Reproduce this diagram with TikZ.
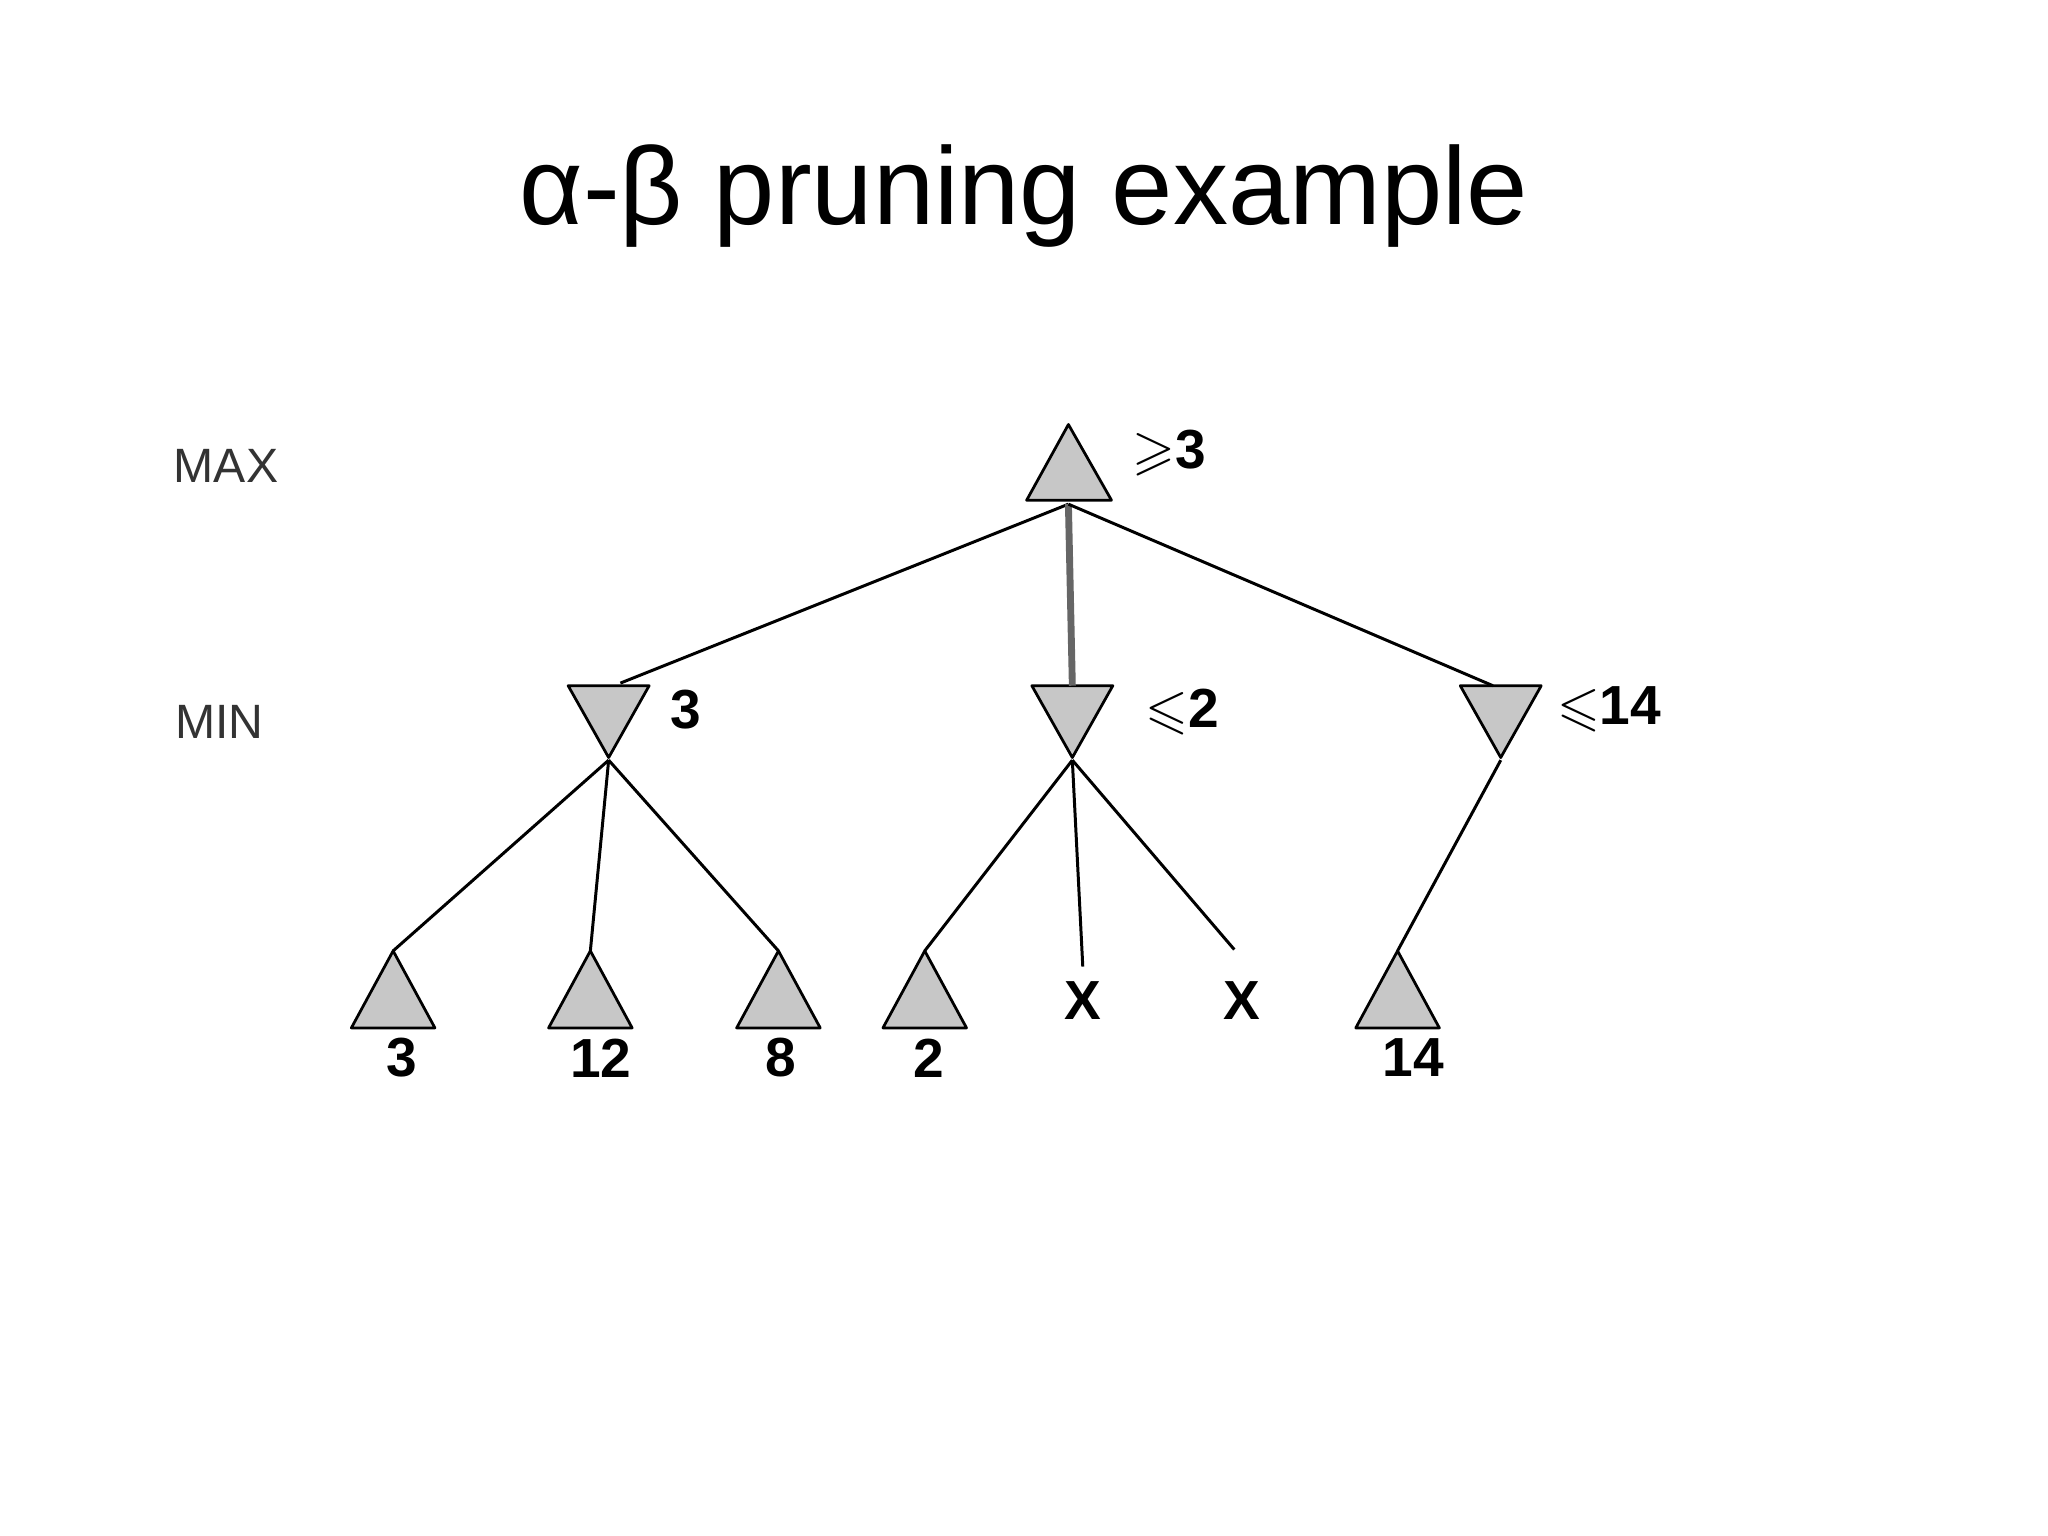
\documentclass[tikz,border=0pt]{standalone}
\usepackage{fontspec}
\usepackage{amssymb}
\setmainfont{Liberation Sans}
\begin{document}
\begin{tikzpicture}[x=0.02cm,y=-0.02cm,
 tri/.style={fill=black!22,draw=black,line width=1.2pt,line join=round},
 edge/.style={line width=1.3pt},
 val/.style={font=\fontsize{24}{26}\selectfont\bfseries,inner sep=0pt},
 lvl/.style={font=\fontsize{21}{24}\selectfont,text=black!80,inner sep=0pt}]
\useasboundingbox (0,0) rectangle (1568,1176);
\node[font=\fontsize{48}{54}\selectfont] (title) at (784,150) {α-β pruning example};
\node[lvl] (max) at (173,357) {MAX};
\node[lvl] (min) at (168,553) {MIN};
% root
\draw[tri] (818,325) -- (851,383) -- (786,383) -- cycle;
\coordinate (r) at (818,386);
% min nodes
\foreach \x in {466,821,1149}
 \draw[tri] (\x-31,525) -- (\x+31,525) -- (\x,580) -- cycle;
\coordinate (atop) at (475,523);
\coordinate (btop) at (821,525);
\coordinate (ctop) at (1143,525);
\coordinate (abot) at (466,582);
\coordinate (bbot) at (821,582);
\coordinate (cbot) at (1149,582);
% leaves
\foreach \x in {301,452,596,708,1070}
 \draw[tri] (\x,728) -- (\x+32,787) -- (\x-32,787) -- cycle;
\coordinate (l1) at (301,728);
\coordinate (l2) at (452,728);
\coordinate (l3) at (596,728);
\coordinate (l4) at (708,728);
\coordinate (l7) at (1070,728);
\node[val] (x1) at (829,766) {X};
\node[val] (x2) at (951,766) {X};
\coordinate (x1t) at (829,740);
\coordinate (x2t) at (945,727);
\draw[edge] (r) -- (atop);
\draw[line width=3pt,black!60] (r) -- (btop);
\draw[edge] (r) -- (ctop);
\draw[edge] (abot) -- (l1);
\draw[edge] (abot) -- (l2);
\draw[edge] (abot) -- (l3);
\draw[edge] (bbot) -- (l4);
\draw[edge] (bbot) -- (x1t);
\draw[edge] (bbot) -- (x2t);
\draw[edge] (cbot) -- (l7);
% labels
\node[val] (v0) at (895,347) {$\geqslant$3};
\node[val] (v1) at (525,543) {3};
\node[val] (v2) at (905,545) {$\leqslant$2};
\node[val] (v3) at (1232,543) {$\leqslant$14};
\node[val] (t1) at (308,810) {3};
\node[val] (t2) at (460,810) {12};
\node[val] (t3) at (598,810) {8};
\node[val] (t4) at (711,810) {2};
\node[val] (t5) at (1082,810) {14};
\end{tikzpicture}
\end{document}
